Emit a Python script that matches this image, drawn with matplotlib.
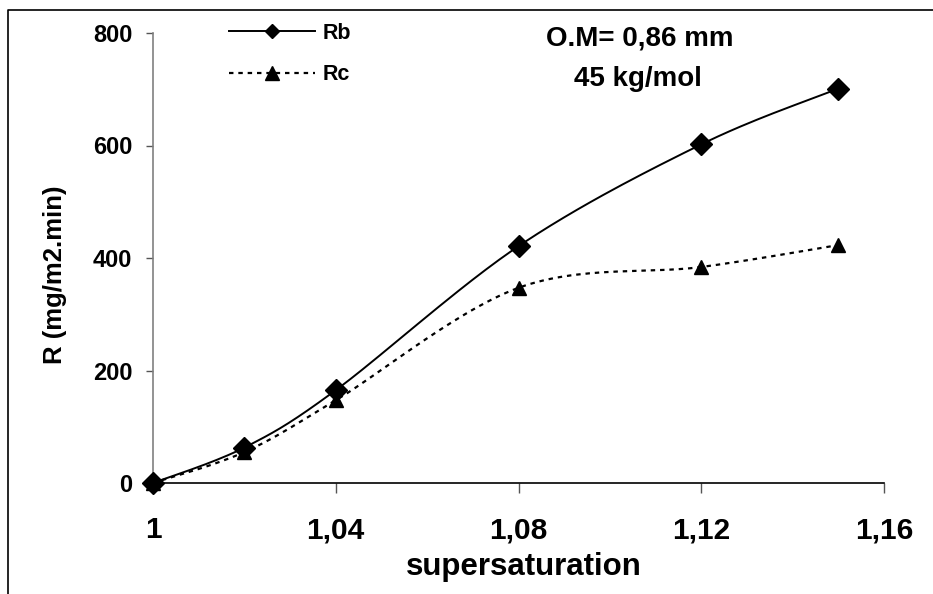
import matplotlib
matplotlib.use("Agg")
import matplotlib.pyplot as plt
from matplotlib.lines import Line2D
import numpy as np

plt.rcParams['font.family'] = ['Liberation Sans', 'DejaVu Sans']
plt.rcParams['font.weight'] = 'bold'

# data
supersat = [1.00, 1.02, 1.04, 1.08, 1.12, 1.15]
rb = [0, 63, 165, 421, 602, 701]
rc = [0, 55, 147, 347, 384, 423]
x_ticks = [1.00, 1.04, 1.08, 1.12, 1.16]
x_tick_labels = ["1", "1,04", "1,08", "1,12", "1,16"]
y_ticks = [0, 200, 400, 600, 800]


def smooth(xs, ys, xr, yr, n=30):
    # excel-like smoothed line (catmull-rom bezier), done in scaled space
    px = (np.asarray(xs, float) - xr[0]) / (xr[1] - xr[0]) * 731
    py = (np.asarray(ys, float) - yr[0]) / (yr[1] - yr[0]) * 450
    pts = np.column_stack([px, py])
    out = [pts[0]]
    for i in range(len(pts) - 1):
        p0 = pts[max(i - 1, 0)]
        p1 = pts[i]
        p2 = pts[i + 1]
        p3 = pts[min(i + 2, len(pts) - 1)]
        c1 = p1 + (p2 - p0) / 6
        c2 = p2 - (p3 - p1) / 6
        t = np.linspace(0, 1, n)[1:, None]
        seg = ((1 - t) ** 3 * p1 + 3 * (1 - t) ** 2 * t * c1
               + 3 * (1 - t) * t ** 2 * c2 + t ** 3 * p2)
        out.extend(seg)
    out = np.array(out)
    sx = out[:, 0] / 731 * (xr[1] - xr[0]) + xr[0]
    sy = out[:, 1] / 450 * (yr[1] - yr[0]) + yr[0]
    return sx, sy


fig = plt.figure(figsize=(9.33, 5.94), dpi=100)
ax = fig.add_axes([153 / 933, 111 / 594, 731 / 933, 450 / 594])
xr = (1.0, 1.16)
yr = (0, 800)

sx, sy = smooth(supersat, rb, xr, yr)
ax.plot(sx, sy, color='black', lw=1.4, clip_on=False)
ax.plot(supersat, rb, linestyle='none', marker='D', ms=11, color='black',
        clip_on=False, zorder=3)
sx, sy = smooth(supersat, rc, xr, yr)
ax.plot(sx, sy, color='black', lw=1.6, linestyle=(0, (2, 2.2)), clip_on=False)
ax.plot(supersat, rc, linestyle='none', marker='^', ms=9.5, color='black',
        clip_on=False, zorder=3)

ax.set_xlim(xr)
ax.set_ylim(yr)
ax.set_xticks(x_ticks)
ax.set_xticklabels(x_tick_labels)
ax.set_yticks(y_ticks)

for s in ['top', 'right']:
    ax.spines[s].set_visible(False)
ax.spines['left'].set_color('#808080')
ax.spines['left'].set_linewidth(1.2)
ax.spines['bottom'].set_color('black')
ax.spines['bottom'].set_linewidth(1.2)

ax.tick_params(axis='x', direction='out', length=7, width=1, color='#555555',
               pad=17, labelsize=21.5)
ax.tick_params(axis='y', direction='out', length=5, width=1, color='#555555',
               pad=10, labelsize=17)
for lab in ax.get_xticklabels() + ax.get_yticklabels():
    lab.set_fontweight('bold')

ax.set_xlabel('supersaturation', fontsize=22.5, fontweight='bold')
ax.xaxis.set_label_coords(0.5075, -0.186)
ax.xaxis.label.set_verticalalignment('center')
ax.set_ylabel('R (mg/m2.min)', fontsize=18.5, fontweight='bold')
ax.yaxis.set_label_coords(-0.1345, 0.462)
ax.yaxis.label.set_verticalalignment('center')

# legend
handles = [
    Line2D([], [], color='black', lw=1.4, marker='D', ms=7.5),
    Line2D([], [], color='black', lw=1.6, linestyle=(0, (2, 2.2)),
           marker='^', ms=9.5),
]
fig.legend(handles, ['Rb', 'Rc'], loc='upper left',
           bbox_to_anchor=(229 / 933, 1 - 23 / 594), frameon=False,
           fontsize=15.5, handlelength=4.0, handletextpad=0.35,
           labelspacing=0.95, borderpad=0, borderaxespad=0)

fig.text(640 / 933, 1 - 38 / 594, 'O.M= 0,86 mm', ha='center', va='center',
         fontsize=20, fontweight='bold')
fig.text(638 / 933, 1 - 79 / 594, '45 kg/mol', ha='center', va='center',
         fontsize=20, fontweight='bold')

# outer frame (top and left only)
fig.add_artist(Line2D([8 / 933, 8 / 933, 1.0], [0.0, 1 - 10 / 594, 1 - 10 / 594],
                      transform=fig.transFigure, color='black', lw=1.2))

fig.savefig('out.png', dpi=100)
